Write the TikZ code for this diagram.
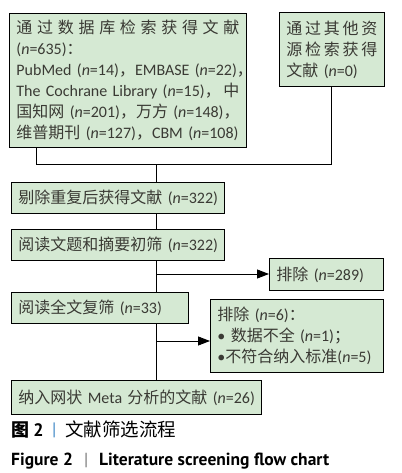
\documentclass[tikz,border=0pt]{standalone}
\usepackage{fontspec}
\setmainfont{Carlito}
\newfontfamily\cjk{Noto Sans CJK SC}
\newfontfamily\capfont{PT Sans}
\usetikzlibrary{arrows.meta}
\definecolor{boxgreen}{RGB}{213,233,211}
\definecolor{txtgray}{RGB}{58,58,52}
\definecolor{barblue}{RGB}{70,140,200}
\definecolor{bargray}{RGB}{120,120,120}
\newcommand\zh[1]{{\cjk #1}}
\newcommand\nn{\textit{n}}
\newcommand\oneline[1]{\makebox[\linewidth][l]{#1}}
\newcommand\spreadline[1]{\makebox[\linewidth][s]{#1}}
\begin{document}
\begin{tikzpicture}[x=1pt,y=-1pt,
  box/.style={draw=black, fill=boxgreen, line width=0.9pt, anchor=north west,
    inner xsep=7pt, inner ysep=0pt, align=left, text=txtgray,
    font=\fontsize{16}{21}\selectfont},
  conn/.style={line width=0.9pt},
  arr/.style={line width=0.9pt, -{Triangle[length=12pt,width=9pt]}},
  captxt/.style={anchor=base west, inner sep=0pt, text=black}]
\useasboundingbox (0,0) rectangle (401,473);
\fill[white] (0,0) rectangle (401,473);

% boxes
\node[box, text width=223pt, minimum height=134pt] (b1) at (9,13) {%
\spreadline{\zh{通\hfill 过\hfill 数\hfill 据\hfill 库\hfill 检\hfill 索\hfill 获\hfill 得\hfill 文\hfill 献}}\\
\oneline{(\nn=635)\zh{：}}\\
\oneline{PubMed (\nn=14)\zh{，}EMBASE (\nn=22)\zh{，}}\\
\spreadline{The Cochrane Library (\nn=15)\zh{，}\hfill\zh{中}}\\
\oneline{\zh{国知网} (\nn=201)\zh{，}\zh{万方} (\nn=148)\zh{，}}\\
\oneline{\zh{维普期刊} (\nn=127)\zh{，}CBM (\nn=108)}};

\node[box, text width=91pt, minimum height=74pt] (b2) at (279,12) {%
\spreadline{\zh{通\hfill 过\hfill 其\hfill 他\hfill 资}}\\
\spreadline{\zh{源\hfill 检\hfill 索\hfill 获\hfill 得}}\\
\oneline{\zh{文献} (\nn=0)}};

\node[box, text width=199pt, minimum height=31pt] (b3) at (11,182) {\oneline{\zh{剔除重复后获得文献} (\nn=322)}};
\node[box, text width=199pt, minimum height=31pt] (b4) at (11,229) {\oneline{\zh{阅读文题和摘要初筛} (\nn=322)}};
\node[box, text width=100pt, minimum height=32pt] (e1) at (269,258) {\oneline{\zh{排除} (\nn=289)}};
\node[box, text width=163pt, minimum height=31pt] (b5) at (11,292) {\oneline{\zh{阅读全文复筛} (\nn=33)}};
\node[box, text width=159pt, minimum height=73pt] (e2) at (210,299) {%
\oneline{\zh{排除} (\nn=6)\zh{：}}\\
\oneline{• \zh{数据不全} (\nn=1)\zh{；}}\\
\oneline{•\zh{不符合纳入标准}(\nn=5)}};
\node[box, text width=236pt, minimum height=34pt] (b6) at (11,380) {\oneline{\zh{纳入网状} Meta \zh{分析的文献} (\nn=26)}};

% junction coordinates
\coordinate (jl) at (36,164);
\coordinate (jr) at (331,164);
\coordinate (jm) at (156,164);
\coordinate (a1) at (156,274);
\coordinate (a2) at (156,341);

% connectors
\draw[conn] (b1.south -| jl) -- (jl) -- (jr) -- (b2.south -| jr);
\draw[conn] (jm) -- (b3.north -| jm);
\draw[conn] (b3.south -| jm) -- (b4.north -| jm);
\draw[conn] (b4.south -| jm) -- (b5.north -| jm);
\draw[arr] (a1) -- (e1.west |- a1);
\draw[conn] (b5.south -| jm) -- (b6.north -| jm);
\draw[arr] (a2) -- (e2.west |- a2);

% captions
\node[captxt, font=\fontsize{18}{20}\selectfont] (c1a) at (11,436) {{\cjk\bfseries 图} {\capfont\bfseries 2}};
\node[captxt, font=\fontsize{18}{20}\selectfont, text=barblue] (c1b) at (52,435) {\capfont |};
\node[captxt, font=\fontsize{18.5}{20}\selectfont] (c1c) at (65,436) {\zh{文献筛选流程}};
\node[captxt, font=\capfont\bfseries\fontsize{17.5}{20}\selectfont] (c2a) at (11,465) {Figure 2};
\node[captxt, font=\capfont\fontsize{17.5}{20}\selectfont, text=bargray] (c2b) at (84,465) {|};
\node[captxt, font=\capfont\bfseries\fontsize{17.5}{20}\selectfont] (c2c) at (99,465) {Literature screening flow chart};
\end{tikzpicture}
\end{document}
